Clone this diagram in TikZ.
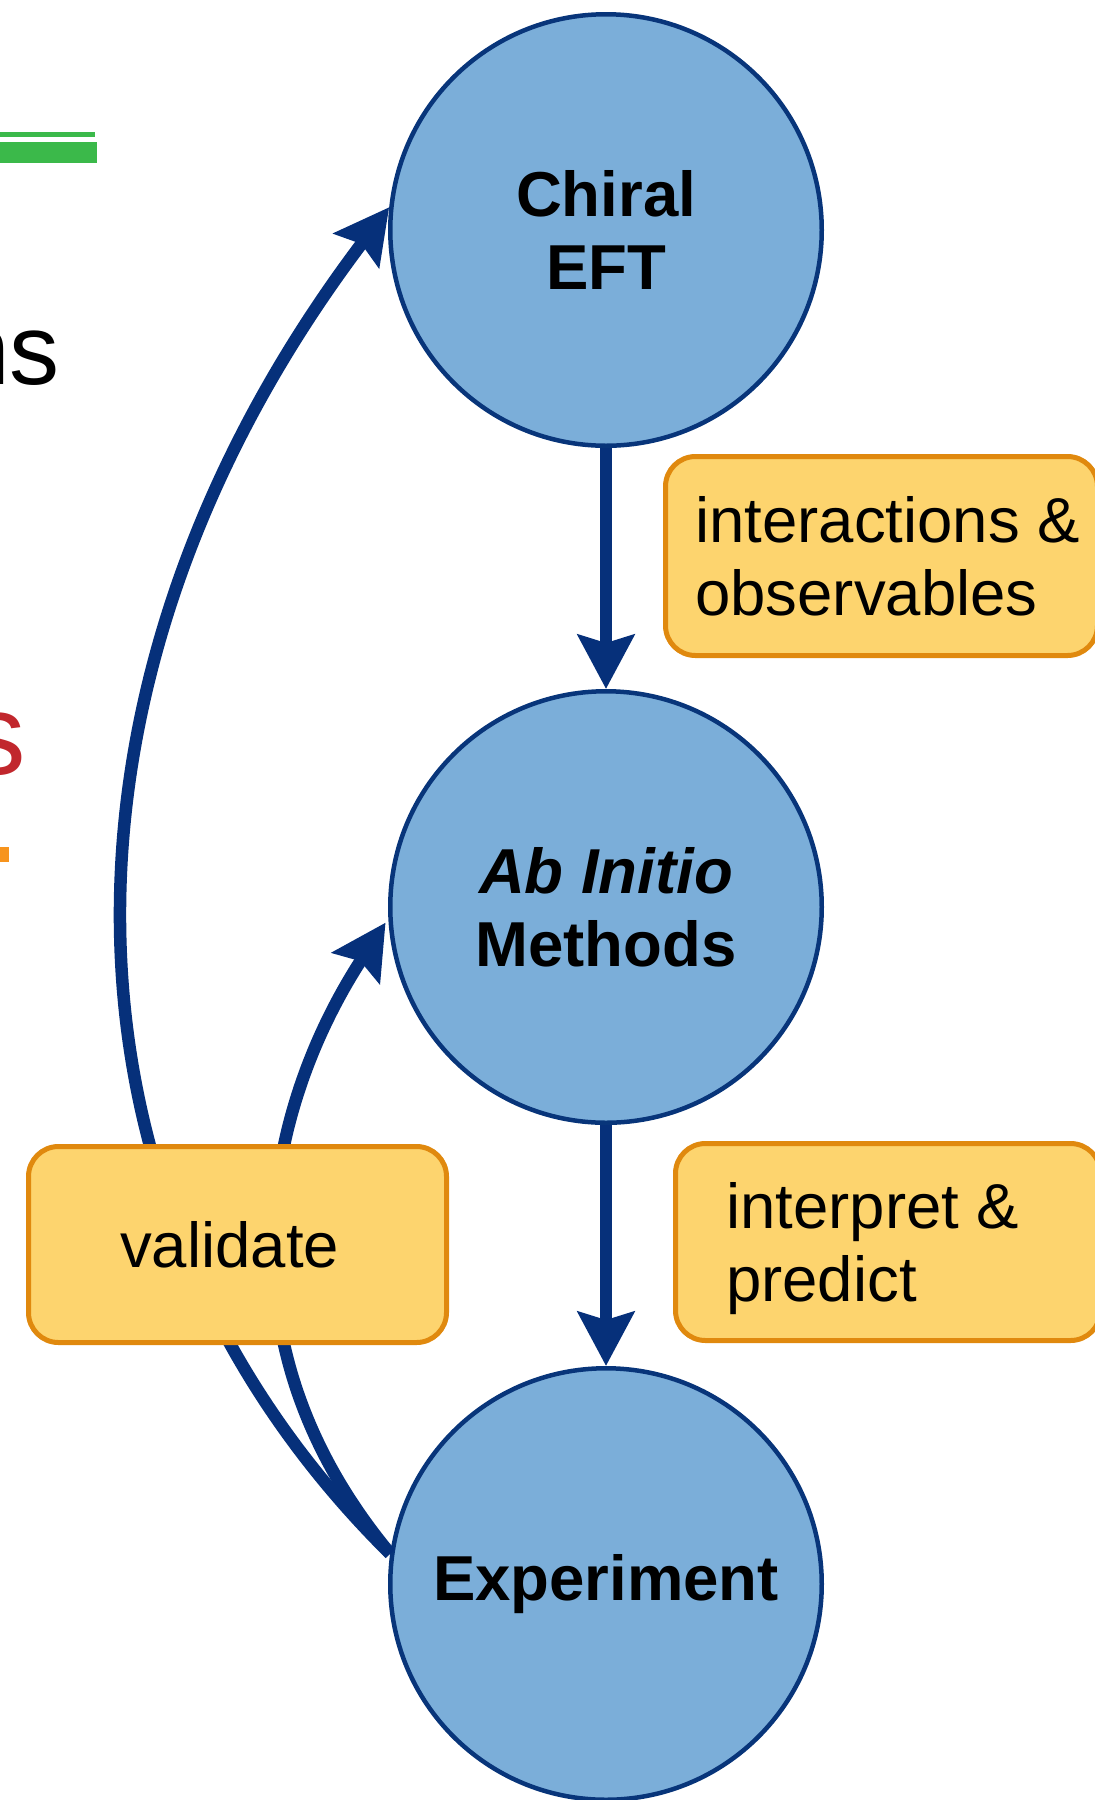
\documentclass[tikz,border=0pt]{standalone}
\usepackage{fontspec}
\setmainfont{Liberation Sans}
\usetikzlibrary{arrows.meta}
\definecolor{circfill}{HTML}{7BAED9}
\definecolor{navy}{HTML}{06307A}
\definecolor{circline}{HTML}{08357A}
\definecolor{boxfill}{HTML}{FDD46E}
\definecolor{boxline}{HTML}{E0890E}
\definecolor{grn}{HTML}{3BB94A}
\definecolor{redtxt}{HTML}{C1272D}
\definecolor{orng}{HTML}{F7941D}
\begin{document}
\begin{tikzpicture}[x=1pt,y=-1pt,
  stage/.style={circle, draw=circline, line width=4.5pt, fill=circfill,
    minimum size=431.5pt, inner sep=0pt, align=center,
    font=\fontsize{63.5}{73}\selectfont\bfseries},
  flow/.style={draw=navy, line width=12.5pt,
    -{Stealth[length=54pt,width=56pt,inset=8pt]}},
  tag/.style={draw=boxline, line width=5pt, fill=boxfill,
    rounded corners=30pt, inner sep=0pt},
  lbl/.style={inner sep=0pt, align=left, font=\fontsize{63.5}{73}\selectfont}]
\useasboundingbox (0,0) rectangle (1095,1800);
\clip (0,0) rectangle (1095,1800);

% partial slide content at left edge
\fill[grn] (0,131.7) rectangle (95,136.7);
\fill[grn] (0,142.3) rectangle (96.7,163.3);
\node[anchor=base east, inner sep=0pt, font=\fontsize{100}{120}\selectfont] (ns) at (60,384) {ns};
\node[anchor=base east, inner sep=0pt, text=redtxt, font=\fontsize{115}{130}\selectfont] (rs) at (26.5,774) {s};
\fill[orng] (-5,847) rectangle (9.3,862);

% stages
\node[stage] (c1) at (606,230) {Chiral\\EFT};
\node[stage] (c2) at (606,907) {\textit{Ab Initio}\\Methods};
\node[stage] (c3) at (606,1584) {Experiment};

% connectors
\draw[flow] (c1.south) -- (c2.north);
\draw[flow] (c2.south) -- (c3.north);
\draw[flow] (c3.172) .. controls (34,1201) and (35,675) .. (c1.174);
\draw[flow, shorten >=5pt] (c3.172) .. controls (209,1336) and (270,1100) .. (c2.183);

% labels
\node[tag, minimum width=432pt, minimum height=199pt] (b1) at (881.5,556) {};
\node[lbl, anchor=west] (t1) at (695,556) {interactions \&\\observables};
\node[tag, minimum width=425pt, minimum height=197pt] (b2) at (888,1242) {};
\node[lbl, anchor=west] (t2) at (726,1249) {interpret \&\\predict};
\node[tag, minimum width=418pt, minimum height=196pt] (b3) at (237.5,1244.5) {};
\node[lbl, anchor=base west] (t3) at (120,1267) {validate};
\end{tikzpicture}
\end{document}
